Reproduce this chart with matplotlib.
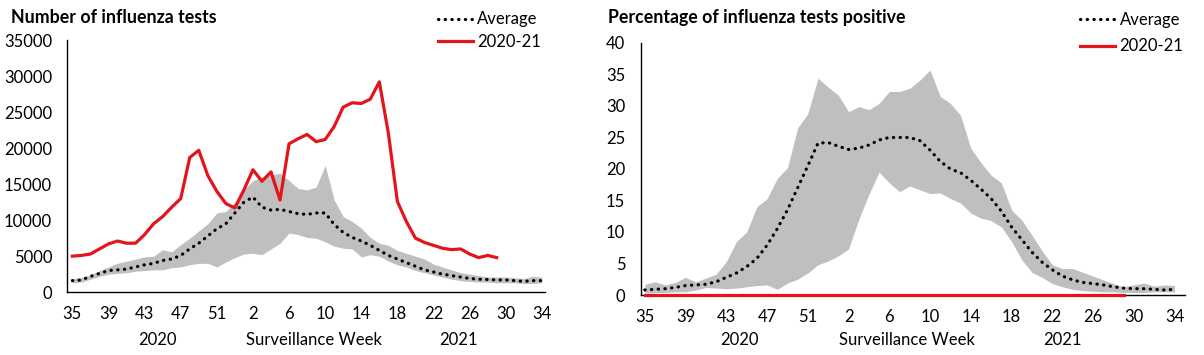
import numpy as np
import matplotlib
matplotlib.use("Agg")
from matplotlib import pyplot as plt
from matplotlib import transforms

plt.rcParams['font.family'] = ['Lato', 'DejaVu Sans']

# surveillance weeks 35..53 of 2020, then 1..34 of 2021
weeks = list(range(35, 54)) + list(range(1, 35))
tick_weeks = [35, 39, 43, 47, 51, 2, 6, 10, 14, 18, 22, 26, 30, 34]

# number of tests (thousands)
tests_avg = [1.6, 1.7, 2.2, 2.6, 3.0, 3.1, 3.2, 3.5, 3.8, 4.0, 4.4, 4.6, 5.1, 6.0, 6.8,
             7.8, 8.8, 9.5, 11.0, 12.5, 13.2, 11.8, 11.4, 11.5, 11.2, 10.9, 10.8, 11.0,
             11.0, 9.4, 8.3, 7.6, 7.1, 6.5, 5.8, 5.1, 4.6, 4.1, 3.6, 3.1, 2.8, 2.5, 2.3,
             2.1, 1.9, 1.8, 1.75, 1.7, 1.7, 1.6, 1.5, 1.6, 1.6]
tests_hi = [1.9, 2.0, 2.4, 3.0, 3.5, 4.0, 4.3, 4.6, 4.9, 5.0, 5.9, 5.6, 6.6, 7.5, 8.5,
            9.5, 11.0, 11.2, 12.5, 14.2, 15.5, 16.0, 16.3, 16.5, 15.5, 14.4, 14.2, 14.6,
            17.6, 12.8, 10.5, 9.8, 8.9, 7.6, 6.8, 6.5, 5.8, 5.4, 5.0, 4.6, 3.9, 3.5, 3.1,
            2.7, 2.5, 2.3, 2.1, 2.1, 2.1, 2.0, 1.9, 2.2, 2.1]
tests_lo = [1.3, 1.4, 1.8, 2.2, 2.5, 2.6, 2.7, 2.9, 3.0, 3.1, 3.1, 3.4, 3.5, 3.8, 4.0,
            4.0, 3.5, 4.2, 4.8, 5.3, 5.4, 5.2, 6.0, 6.8, 8.2, 8.0, 7.6, 7.5, 7.0, 6.4,
            6.1, 6.0, 4.9, 5.2, 5.0, 4.3, 3.8, 3.5, 3.0, 2.7, 2.4, 2.1, 1.8, 1.6, 1.5,
            1.4, 1.4, 1.3, 1.3, 1.3, 1.2, 1.2, 1.3]
tests_2021 = [5.0, 5.1, 5.3, 6.0, 6.7, 7.1, 6.8, 6.8, 8.0, 9.5, 10.5, 11.8, 13.0, 18.7,
              19.7, 16.2, 14.0, 12.3, 11.7, 14.2, 17.0, 15.4, 16.7, 12.8, 20.6, 21.3,
              21.9, 20.9, 21.2, 23.0, 25.7, 26.3, 26.2, 26.8, 29.2, 22.1, 12.6, 9.8,
              7.5, 6.9, 6.5, 6.1, 5.9, 6.0, 5.3, 4.8, 5.1, 4.8]

# percent positive
pos_avg = [0.8, 0.9, 1.0, 1.2, 1.5, 1.6, 1.7, 2.1, 2.8, 3.5, 4.5, 5.8, 7.9, 10.5, 13.5,
           17.0, 20.5, 24.1, 24.2, 23.6, 23.1, 23.3, 23.8, 24.6, 25.0, 25.0, 25.0, 24.5,
           23.0, 21.2, 20.0, 19.4, 18.2, 16.8, 15.3, 13.3, 10.8, 8.8, 6.8, 5.2, 4.0,
           3.0, 2.4, 2.0, 1.8, 1.6, 1.3, 1.1, 1.0, 1.0, 0.9, 0.8, 0.9]
pos_hi = [1.7, 2.1, 1.6, 2.0, 2.8, 2.1, 2.7, 3.3, 5.3, 8.5, 10.0, 14.0, 15.3, 18.5, 20.2,
          26.5, 28.8, 34.4, 33.0, 31.7, 29.1, 29.9, 29.4, 30.4, 32.3, 32.3, 32.8, 34.1,
          35.7, 31.5, 30.4, 28.5, 23.3, 21.0, 19.0, 17.8, 13.5, 11.9, 9.5, 7.0, 4.8,
          4.2, 4.2, 3.6, 3.0, 2.4, 1.8, 1.3, 1.6, 1.9, 1.4, 1.6, 1.5]
pos_lo = [0.3, 0.4, 0.4, 0.5, 0.5, 0.8, 1.2, 1.1, 1.0, 1.1, 1.3, 1.5, 1.6, 0.9, 1.9,
          2.5, 3.5, 4.8, 5.4, 6.2, 7.3, 12.0, 16.0, 19.5, 17.8, 16.4, 17.3, 16.7, 16.1,
          16.2, 15.3, 14.6, 13.0, 12.2, 11.8, 10.8, 8.5, 5.6, 3.6, 2.8, 1.8, 1.3, 0.9,
          0.7, 0.6, 0.5, 0.5, 0.4, 0.4, 0.4, 0.5, 0.5, 0.5]
pos_2021 = [0.0] * 48

GREY = '#BFBFBF'
RED = '#E3151A'
FS = 12

fig = plt.figure(figsize=(12.04, 3.55), dpi=100)
ax1 = fig.add_axes([0.056, 0.177, 0.397, 0.710])
ax2 = fig.add_axes([0.532, 0.169, 0.452, 0.710])


def draw(ax, avg, lo, hi, cur, ymax, ystep, legend_xy, legend_gap):
    x = np.arange(len(weeks))
    ax.fill_between(x, lo, hi, color=GREY, lw=0, zorder=1)
    ax.plot(x, avg, color='black', lw=2.3, linestyle=(0, (0.1, 2.0)),
            dash_capstyle='round', label='Average', zorder=3)
    ax.plot(x[:len(cur)], cur, color=RED, lw=2.3, label='2020-21', zorder=4,
            clip_on=False)
    ax.set_ylim(0, ymax)
    ax.set_yticks(np.arange(0, ymax + ystep / 2, ystep))
    ticks = [weeks.index(w) if w > 34 else len(weeks) - 1 - weeks[::-1].index(w)
             for w in tick_weeks]
    ax.set_xticks(ticks)
    ax.set_xticklabels([str(w) for w in tick_weeks])
    for s in ['top', 'right']:
        ax.spines[s].set_visible(False)
    for s in ['left', 'bottom']:
        ax.spines[s].set_linewidth(1.0)
    ax.tick_params(length=0, labelsize=FS)
    ax.tick_params(axis='y', pad=11)
    ax.tick_params(axis='x', pad=10)
    ax.legend(loc='upper right', bbox_to_anchor=legend_xy, bbox_transform=fig.transFigure,
              frameon=False, fontsize=FS, handlelength=2.1, handletextpad=0.25,
              labelspacing=legend_gap, borderaxespad=0, borderpad=0)


draw(ax1, [v * 1000 for v in tests_avg], [v * 1000 for v in tests_lo],
     [v * 1000 for v in tests_hi], [v * 1000 for v in tests_2021],
     35000, 5000, (0.449, 0.968), 0.4)
ax1.set_xlim(-0.55, 52.4)
draw(ax2, pos_avg, pos_lo, pos_hi, pos_2021, 40, 5, (0.983, 0.966), 0.62)
ax2.set_xlim(-0.42, 53.0)

for ax, pos, yoff in [(ax1, (9.4, 26.8, 42.8), -0.19), (ax2, (9.3, 25.7, 41.0), -0.18)]:
    tr = transforms.blended_transform_factory(ax.transData, ax.transAxes)
    for xp, label in zip(pos, ['2020', 'Surveillance Week', '2021']):
        ax.text(xp, yoff, label, transform=tr, ha='center', va='center', fontsize=FS)

fig.text(0.009, 0.95, 'Number of influenza tests', fontsize=12.8, fontweight='bold',
         va='center', ha='left')
fig.text(0.505, 0.95, 'Percentage of influenza tests positive', fontsize=12.8,
         fontweight='bold', va='center', ha='left')

fig.savefig('out.png', dpi=100)
